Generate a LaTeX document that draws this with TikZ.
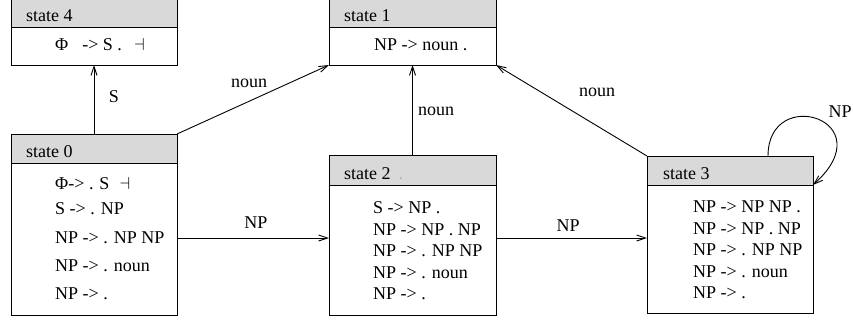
\documentclass[tikz,border=0pt]{standalone}
\usepackage{fontspec}
\setmainfont{Liberation Serif}
\usetikzlibrary{arrows.meta}
\definecolor{hdrgray}{RGB}{217,217,217}
\begin{document}
\begin{tikzpicture}[x=1pt,y=-1pt,
  box/.style={draw,fill=white,line width=0.9pt,anchor=north west,inner sep=0pt,outer sep=0pt},
  hdr/.style={draw,fill=hdrgray,line width=0.9pt,anchor=north west,inner sep=0pt,outer sep=0pt},
  txt/.style={anchor=west,inner sep=0pt,text height=12pt,text depth=0pt,font=\fontsize{18}{20}\selectfont},
  lbl/.style={inner sep=0pt,font=\fontsize{18}{20}\selectfont},
  arr/.style={line width=0.9pt,-{Straight Barb[length=9pt,width=6pt]}}]
\useasboundingbox (0,0) rectangle (853,324);
% boxes
\node[box,minimum width=166pt,minimum height=71pt] (s4) at (11,-6) {};
\node[hdr,minimum width=166pt,minimum height=33pt] (s4h) at (11,-6) {};
\node[box,minimum width=167pt,minimum height=71pt] (s1) at (329,-6) {};
\node[hdr,minimum width=167pt,minimum height=33pt] (s1h) at (329,-6) {};
\node[box,minimum width=166pt,minimum height=181pt] (s0) at (11,134) {};
\node[hdr,minimum width=166pt,minimum height=29pt] (s0h) at (11,134) {};
\node[box,minimum width=167pt,minimum height=160pt] (s2) at (329,155) {};
\node[hdr,minimum width=167pt,minimum height=30pt] (s2h) at (329,155) {};
\node[box,minimum width=166pt,minimum height=157pt] (s3) at (647,156) {};
\node[hdr,minimum width=166pt,minimum height=29pt] (s3h) at (647,156) {};
% header texts
\node[txt] (t4) at (26,15) {state 4};
\node[txt] (t1) at (344,15) {state 1};
\node[txt] (t0) at (26,151) {state 0};
\node[txt] (t2) at (344,173) {state 2\hspace{8pt}\textcolor{gray!60}{.}};
\node[txt] (t3) at (663,173) {state 3};
% rules
\node[txt] (r4a) at (55,44) {Φ\hspace{14pt}-> S .\hspace{12pt}$\dashv$};
\node[txt] (r1a) at (374,44) {NP -> noun .};
\node[txt] (r0a) at (55,183) {Φ-> . S\hspace{10pt}$\dashv$};
\node[txt] (r0b) at (55,208) {S -> . NP};
\node[txt] (r0c) at (55,237) {NP -> . NP NP};
\node[txt] (r0d) at (55,265) {NP -> . noun};
\node[txt] (r0e) at (55,293) {NP -> .};
\node[txt] (r2a) at (373,207) {S -> NP .};
\node[txt] (r2b) at (373,229) {NP -> NP . NP};
\node[txt] (r2c) at (373,250) {NP -> . NP NP};
\node[txt] (r2d) at (373,272) {NP -> . noun};
\node[txt] (r2e) at (373,293) {NP -> .};
\node[txt] (r3a) at (693,206) {NP -> NP NP .};
\node[txt] (r3b) at (693,228) {NP -> NP . NP};
\node[txt] (r3c) at (693,249) {NP -> . NP NP};
\node[txt] (r3d) at (693,271) {NP -> . noun};
\node[txt] (r3e) at (693,292) {NP -> .};
% connectors
\draw[arr] (s0.north) -- (s4.south);
\draw[arr] (s0.north east) -- (s1.south west);
\draw[arr] (s2.north) -- (s1.south);
\draw[arr] (s3.north west) -- (s1.south east);
\draw[arr] (s0.east |- 0,238) -- (s2.west |- 0,238);
\draw[arr] (s2.east |- 0,238) -- (s3.west |- 0,238);
\draw[arr] ([xshift=-45pt]s3.north east) .. controls ([xshift=-45pt,yshift=72pt]s3.north east) and ([xshift=72pt,yshift=36pt]s3.north east) .. ([yshift=-29pt]s3.north east);
% labels
\node[lbl] (l1) at (114,97) {S};
\node[lbl] (l2) at (249,83) {noun};
\node[lbl] (l3) at (436,111) {noun};
\node[lbl] (l4) at (597,92) {noun};
\node[lbl] (l5) at (256,223) {NP};
\node[lbl] (l6) at (568,226) {NP};
\node[lbl] (l7) at (840,112) {NP};
\end{tikzpicture}
\end{document}
